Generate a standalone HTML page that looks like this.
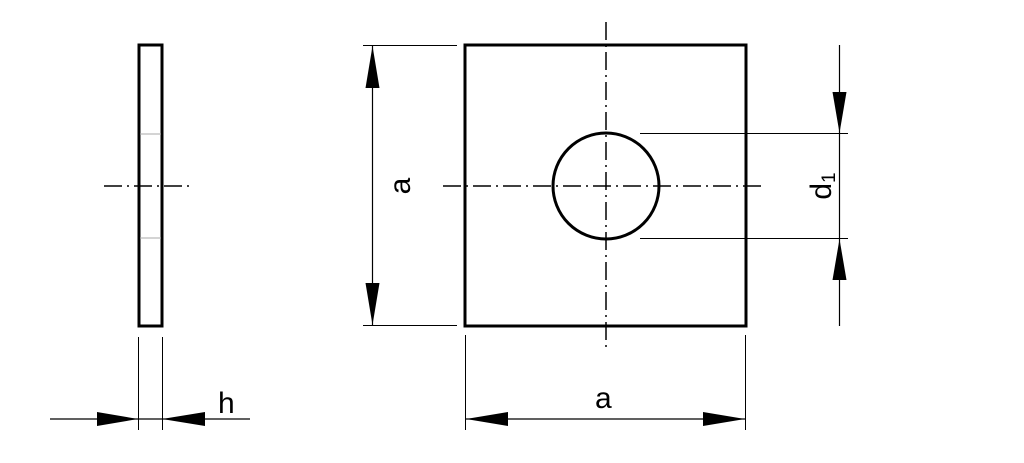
<!DOCTYPE html>
<html><head><style>html,body{margin:0;padding:0;background:#fff}svg{display:block}</style></head>
<body>
<svg width="1024" height="463" viewBox="0 0 1024 463" xmlns="http://www.w3.org/2000/svg">
<g fill="none" stroke="#000">
<rect x="139" y="45" width="23" height="281" stroke-width="3"/>
<line x1="140" y1="134" x2="161" y2="134" stroke="#aaa" stroke-width="1"/>
<line x1="140" y1="238" x2="161" y2="238" stroke="#aaa" stroke-width="1"/>
<line x1="104" y1="186" x2="192" y2="186" stroke-width="1.5" stroke-dasharray="18,5,2,5"/>
<line x1="138.5" y1="337" x2="138.5" y2="430" stroke-width="1"/>
<line x1="162.5" y1="337" x2="162.5" y2="430" stroke-width="1"/>
<line x1="50" y1="419" x2="250" y2="419" stroke-width="1.2"/>
<rect x="465" y="45" width="281" height="281" stroke-width="3"/>
<circle cx="606" cy="186" r="53" stroke-width="3"/>
<line x1="606" y1="22" x2="606" y2="352" stroke-width="1.5" stroke-dasharray="18,5,2,5"/>
<line x1="443" y1="186" x2="765" y2="186" stroke-width="1.5" stroke-dasharray="18,5,2,5"/>
<line x1="363" y1="45.5" x2="457" y2="45.5" stroke-width="1"/>
<line x1="363" y1="325.5" x2="457" y2="325.5" stroke-width="1"/>
<line x1="372.5" y1="45" x2="372.5" y2="326" stroke-width="1.2"/>
<line x1="465.5" y1="335" x2="465.5" y2="430" stroke-width="1"/>
<line x1="745.5" y1="335" x2="745.5" y2="430" stroke-width="1"/>
<line x1="465" y1="419" x2="746" y2="419" stroke-width="1.2"/>
<line x1="640" y1="133.5" x2="848" y2="133.5" stroke-width="1"/>
<line x1="640" y1="238.5" x2="848" y2="238.5" stroke-width="1"/>
<line x1="839.5" y1="45" x2="839.5" y2="326" stroke-width="1.2"/>
</g>
<g fill="#000">
<polygon points="138,419 97,412 97,426"/>
<polygon points="162,419 205,412 205,426"/>
<polygon points="372.5,46 365.5,88 379.5,88"/>
<polygon points="372.5,325 365.5,283 379.5,283"/>
<polygon points="466,419 508,412 508,426"/>
<polygon points="745,419 703,412 703,426"/>
<polygon points="839.5,133 832.5,92 846.5,92"/>
<polygon points="839.5,239 832.5,280 846.5,280"/>
</g>
<g font-family="Liberation Sans, sans-serif" font-size="30" fill="#000">
<text x="218" y="413">h</text>
<text x="595" y="408">a</text>
<text transform="translate(410,186) rotate(-90)" text-anchor="middle">a</text>
<text transform="translate(831,186) rotate(-90)" text-anchor="middle">d<tspan font-size="19" dy="4">1</tspan></text>
</g>
</svg>
</body></html>
